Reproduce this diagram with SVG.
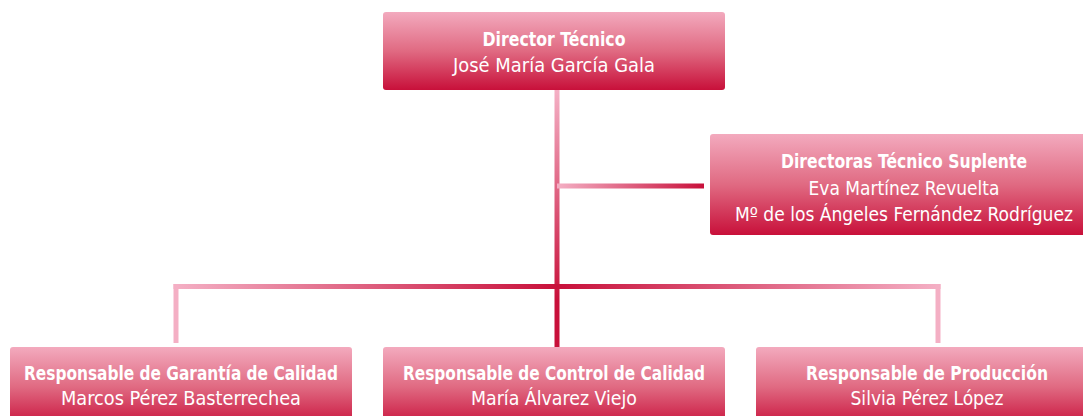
<svg xmlns="http://www.w3.org/2000/svg" width="1083" height="416" viewBox="0 0 1083 416">
<defs>
<linearGradient id="box" x1="0" y1="0" x2="0" y2="1">
<stop offset="0" stop-color="#f3aabe"/>
<stop offset="0.5" stop-color="#e06a82"/>
<stop offset="1" stop-color="#c8103a"/>
</linearGradient>
<linearGradient id="hbar" gradientUnits="userSpaceOnUse" x1="176" y1="0" x2="938" y2="0">
<stop offset="0" stop-color="#f4afc4"/>
<stop offset="0.5" stop-color="#c8103a"/>
<stop offset="1" stop-color="#f4afc4"/>
</linearGradient>
<linearGradient id="vmain" gradientUnits="userSpaceOnUse" x1="0" y1="92" x2="0" y2="300">
<stop offset="0" stop-color="#f4afc4"/>
<stop offset="1" stop-color="#c8103a"/>
</linearGradient>
<linearGradient id="branch" gradientUnits="userSpaceOnUse" x1="557" y1="0" x2="704" y2="0">
<stop offset="0" stop-color="#f4afc4"/>
<stop offset="1" stop-color="#c8103a"/>
</linearGradient>
</defs>
<style>
.box{fill:url(#box)}
.t{font-family:"Liberation Sans Narrow","DejaVu Sans Condensed","Liberation Sans",sans-serif;font-size:19px;fill:#ffffff;text-anchor:middle}
.b{font-weight:bold}
.ln{fill:none;stroke-width:5}
</style>
<g id="connectors">
<line class="ln" x1="557" y1="90" x2="557" y2="347" stroke="url(#vmain)"/>
<line class="ln" x1="557" y1="186" x2="704" y2="186" stroke="url(#branch)"/>
<line class="ln" x1="173.5" y1="286.5" x2="940.5" y2="286.5" stroke="url(#hbar)"/>
<line class="ln" x1="176" y1="284" x2="176" y2="343" stroke="#f4afc4"/>
<line class="ln" x1="938" y1="284" x2="938" y2="343" stroke="#f4afc4"/>
</g>
<g id="director">
<rect class="box" x="383" y="12" width="342" height="78" rx="3"/>
<text class="t b" x="554" y="45.5" textLength="143" lengthAdjust="spacingAndGlyphs">Director Técnico</text>
<text class="t" x="554" y="71.5" textLength="202" lengthAdjust="spacingAndGlyphs">José María García Gala</text>
</g>
<g id="suplente">
<rect class="box" x="710" y="134" width="390" height="101" rx="3"/>
<text class="t b" x="904" y="167.5" textLength="246" lengthAdjust="spacingAndGlyphs">Directoras Técnico Suplente</text>
<text class="t" x="904" y="195" textLength="191" lengthAdjust="spacingAndGlyphs">Eva Martínez Revuelta</text>
<text class="t" x="904" y="221" textLength="338" lengthAdjust="spacingAndGlyphs">Mº de los Ángeles Fernández Rodríguez</text>
</g>
<g id="garantia">
<rect class="box" x="10" y="347" width="342" height="80" rx="3"/>
<text class="t b" x="181" y="380" textLength="314" lengthAdjust="spacingAndGlyphs">Responsable de Garantía de Calidad</text>
<text class="t" x="181" y="405" textLength="240" lengthAdjust="spacingAndGlyphs">Marcos Pérez Basterrechea</text>
</g>
<g id="control">
<rect class="box" x="383" y="347" width="342" height="80" rx="3"/>
<text class="t b" x="554" y="380" textLength="302" lengthAdjust="spacingAndGlyphs">Responsable de Control de Calidad</text>
<text class="t" x="554" y="405" textLength="166" lengthAdjust="spacingAndGlyphs">María Álvarez Viejo</text>
</g>
<g id="produccion">
<rect class="box" x="756" y="347" width="342" height="80" rx="3"/>
<text class="t b" x="927" y="380" textLength="242" lengthAdjust="spacingAndGlyphs">Responsable de Producción</text>
<text class="t" x="927" y="405" textLength="153" lengthAdjust="spacingAndGlyphs">Silvia Pérez López</text>
</g>
</svg>
